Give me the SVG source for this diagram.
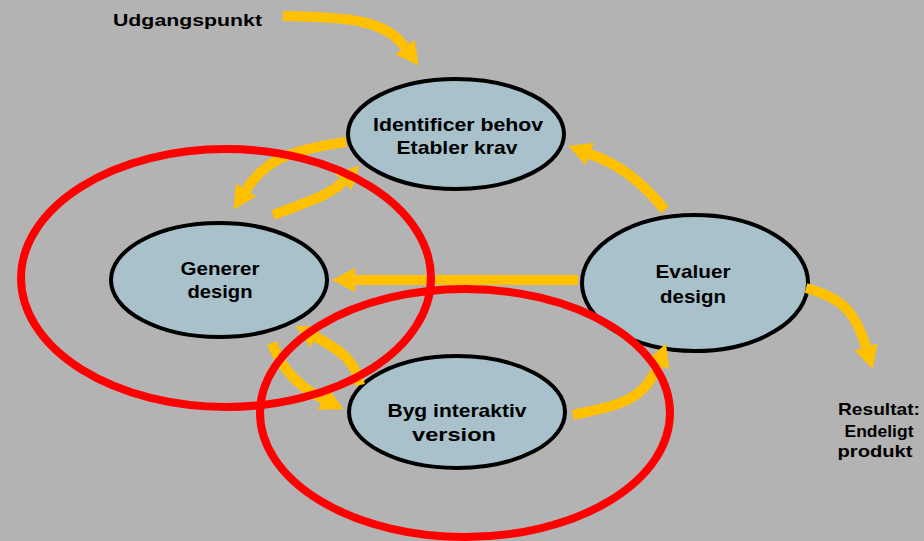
<svg xmlns="http://www.w3.org/2000/svg" width="924" height="541" viewBox="0 0 924 541">
<style>
.node{fill:#a8c1cb;stroke:#000;stroke-width:4}
.lbl{font-family:"Liberation Sans",Arial,sans-serif;font-weight:bold;font-size:19px;fill:#000;text-anchor:middle}
.side{font-family:"Liberation Sans",Arial,sans-serif;font-weight:bold;font-size:17px;fill:#000}
.arr{fill:none;stroke:#ffc000;stroke-width:10;marker-end:url(#ah)}
.ring{fill:none;stroke:#ff0000;stroke-width:8}
</style>
<defs>
<marker id="ah" markerUnits="userSpaceOnUse" markerWidth="24" markerHeight="26" viewBox="0 -13 24 26" refX="0" refY="0" orient="auto">
<path d="M0,-12 L23,0 L0,12 z" fill="#ffc000"/>
</marker>
</defs>
<rect width="924" height="541" fill="#b3b3b3"/>
<g id="n-identificer">
<ellipse class="node" cx="456" cy="134" rx="108" ry="55"/>
<text class="lbl" x="458" y="131" textLength="170" lengthAdjust="spacingAndGlyphs">Identificer behov</text>
<text class="lbl" x="457" y="154" textLength="121" lengthAdjust="spacingAndGlyphs">Etabler krav</text>
</g>
<g id="n-generer">
<ellipse class="node" cx="219" cy="280" rx="108" ry="57"/>
<text class="lbl" x="220" y="275" textLength="79" lengthAdjust="spacingAndGlyphs">Generer</text>
<text class="lbl" x="220" y="298" textLength="65" lengthAdjust="spacingAndGlyphs">design</text>
</g>
<g id="n-evaluer">
<ellipse class="node" cx="695" cy="283" rx="113" ry="68"/>
<text class="lbl" x="693" y="278" textLength="75" lengthAdjust="spacingAndGlyphs">Evaluer</text>
<text class="lbl" x="693" y="303" textLength="66" lengthAdjust="spacingAndGlyphs">design</text>
</g>
<g id="n-byg">
<ellipse class="node" cx="457" cy="412" rx="108" ry="56"/>
<text class="lbl" x="457" y="417" textLength="139" lengthAdjust="spacingAndGlyphs">Byg interaktiv</text>
<text class="lbl" x="454" y="441" textLength="84" lengthAdjust="spacingAndGlyphs">version</text>
</g>
<g id="labels">
<text class="side" x="113" y="26" textLength="149" lengthAdjust="spacingAndGlyphs">Udgangspunkt</text>
<text class="side" x="879" y="415" text-anchor="middle" textLength="82" lengthAdjust="spacingAndGlyphs">Resultat:</text>
<text class="side" x="879" y="437" text-anchor="middle" textLength="69" lengthAdjust="spacingAndGlyphs">Endeligt</text>
<text class="side" x="875" y="457" text-anchor="middle" textLength="75" lengthAdjust="spacingAndGlyphs">produkt</text>
</g>
<g id="connectors">
<path class="arr" d="M283,16 C350,17 385,20 405,47"/>
<path class="arr" d="M346,142 C290,150 265,160 246,190"/>
<path class="arr" d="M273,215 C305,203 330,195 343,182"/>
<path class="arr" d="M665,210 C640,180 620,165 590,154"/>
<path class="arr" d="M578,280 L355,280"/>
<path class="arr" d="M272,343 C280,365 295,385 323,399"/>
<path class="arr" d="M360,385 C355,360 340,350 316,337"/>
<path class="arr" d="M573,415 C620,405 645,400 658,365"/>
<path class="arr" d="M806,288 C840,297 855,310 866,347"/>
</g>
<g id="groups">
<ellipse class="ring" cx="226" cy="278" rx="205" ry="129"/>
<ellipse class="ring" cx="465" cy="413" rx="205" ry="124"/>
</g>
</svg>
